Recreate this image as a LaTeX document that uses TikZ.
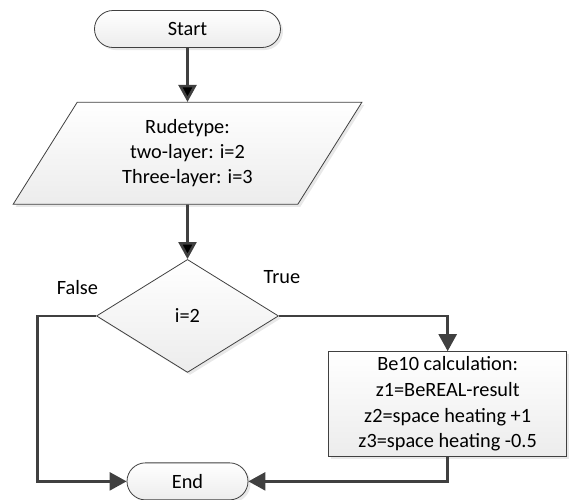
\documentclass[tikz,border=0pt]{standalone}
\usepackage{fontspec}
\setmainfont{Carlito}
\usetikzlibrary{matrix,shapes.geometric,shapes.misc,shadows,arrows.meta}
\definecolor{linegray}{RGB}{64,64,64}
\definecolor{fillgray}{RGB}{236,236,236}
\newcommand{\stacked}[1]{\begin{tabular}{@{}c@{}}#1\end{tabular}}

\begin{document}
\begin{tikzpicture}[
    font=\fontsize{20.3}{25}\selectfont,
    box/.style={draw=linegray, line width=0.8pt, top color=white, bottom color=fillgray,
      drop shadow={shadow xshift=2.5pt, shadow yshift=-2.5pt, fill=black!18}},
    term/.style={box, rounded rectangle, minimum height=37pt, inner sep=2pt},
    io/.style={box, trapezium, trapezium left angle=64, trapezium right angle=116,
      trapezium stretches=true, minimum width=349pt, minimum height=102pt},
    test/.style={box, diamond, minimum width=182pt, minimum height=113pt, inner sep=0pt},
    proc/.style={box, rectangle, minimum width=238pt, minimum height=105pt,
      inner xsep=2pt, inner ysep=0pt, font=\fontsize{20.3}{25.7}\selectfont},
    flow/.style={draw=linegray, line width=2.6pt, -{Triangle[length=17pt,width=18pt]}}
  ]
  \useasboundingbox (0,0) rectangle (571pt,-500pt);
  \matrix (m) [matrix of nodes, nodes={anchor=center}, matrix anchor=m-1-1.center,
    row sep=0pt, column sep=-34pt] at (187.5pt,-29pt)
  {
    |[term, minimum width=190pt]| Start & \\[54pt]
    |[io]| \stacked{Rudetype:\\two-layer: i=2\\Three-layer: i=3} & \\[54.5pt]
    |[test]| i=2 & \\[-21.5pt]
    & |[proc]| \stacked{Be10 calculation:\\z1=BeREAL-result\\z2=space heating +1\\z3=space heating -0.5} \\[5.5pt]
    |[term, minimum width=125pt]| End & \\
  };
  \path[flow]
    (m-1-1) edge (m-2-1)
    (m-2-1) edge (m-3-1);
  \draw[flow] (m-3-1.east) -| (m-4-2);
  \draw[flow] (m-4-2) |- (m-5-1);
  \draw[flow] (m-3-1.west) -- ++(-58.5pt,0) |- (m-5-1);
  % branch labels
  \node (false) at ([shift={(-18.7pt,28.6pt)}]m-3-1.west) {False};
  \node (true) at ([shift={(3pt,39.3pt)}]m-3-1.east) {True};
\end{tikzpicture}
\end{document}
